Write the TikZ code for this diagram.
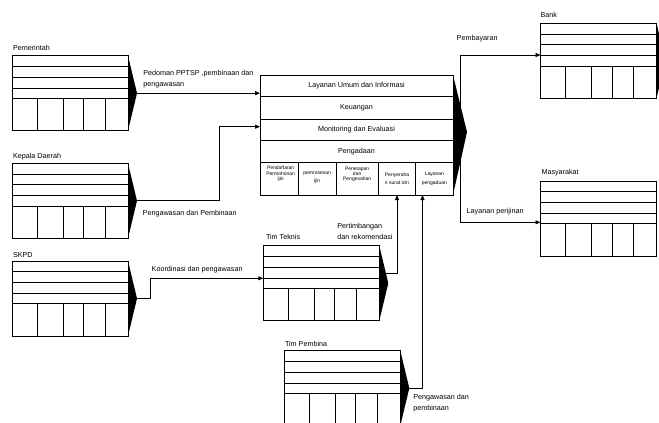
\documentclass[tikz,border=0pt]{standalone}
\usepackage{fontspec}
\setmainfont{Liberation Sans}
\usetikzlibrary{calc,arrows.meta}
\tikzset{
 ebox/.style={draw, line width=0.8pt, minimum width=116pt, minimum height=75pt, inner sep=0pt, outer sep=0pt, anchor=north west},
 eline/.style={line width=0.8pt},
 lbl/.style={inner sep=0pt, outer sep=0pt, anchor=base west, align=left, font=\fontsize{7.2}{11}\selectfont},
 rowbox/.style={draw, line width=0.8pt, minimum width=193pt, inner sep=0pt, outer sep=0pt, anchor=north west, font=\fontsize{7.2}{9}\selectfont},
 cellbox/.style={draw, line width=0.8pt, minimum height=32.3pt, inner sep=0pt, outer sep=0pt, anchor=north west},
 celltxt/.style={inner sep=0pt, align=center, font=\fontsize{5}{5.4}\selectfont},
 celltxtb/.style={inner sep=0pt, align=center, font=\fontsize{5}{8.2}\selectfont},
 arr/.style={line width=0.8pt, -{Triangle[length=5pt,width=4pt]}},
}
\newcommand{\entity}[3]{%
 \node[ebox] (#1) at (#2,#3) {};
 \foreach \rr in {10.7,21.3,32.3,42.7}{\draw[eline] ($(#1.north west)+(0,\rr)$) -- ($(#1.north east)+(0,\rr)$);}
 \foreach \cc in {25,51,71.5,93}{\draw[eline] ($(#1.north west)+(\cc,42.7)$) -- ($(#1.south west)+(\cc,0)$);}
 \coordinate (#1-tip) at ($(#1.east)+(9,0)$);
}
\newcommand{\etri}[1]{\fill (#1.north east) -- (#1-tip) -- (#1.south east) -- cycle;}
\begin{document}
\begin{tikzpicture}[x=1pt,y=-1pt]
\useasboundingbox (0,0) rectangle (659,423);
\clip (0,0) rectangle (659,423);

% entity boxes
\entity{pem}{12}{55.7} \etri{pem}
\entity{kep}{12}{163.3} \etri{kep}
\entity{skpd}{12}{261} \etri{skpd}
\entity{tt}{263.3}{245.7} \etri{tt}
\entity{bank}{540.5}{23.3} \etri{bank}
\entity{masy}{540.5}{181}
\entity{tp}{284.3}{350.7} \etri{tp}

% labels
\node[lbl] (lpem) at (13,50) {Pemerintah};
\node[lbl] (lkep) at (13,158.5) {Kepala Daerah};
\node[lbl] (lskpd) at (13,257.5) {SKPD};
\node[lbl] (ltt) at (266,239) {Tim Teknis};
\node[lbl] (ltp) at (285,346.7) {Tim Pembina};
\node[lbl] (lbank) at (540.5,17.5) {Bank};
\node[lbl] (lmasy) at (541.5,174) {Masyarakat};
\node[lbl] (l1) at (143.3,86.7) {Pedoman PPTSP ,pembinaan dan\\pengawasan};
\node[lbl] (l2) at (142.7,215) {Pengawasan dan Pembinaan};
\node[lbl] (l3) at (151.7,271.7) {Koordinasi dan pengawasan};
\node[lbl] (l4) at (337.3,239) {Pertimbangan\\dan rekomendasi};
\node[lbl] (l5) at (413.3,410) {Pengawasan dan\\pembinaan};
\node[lbl] (l6) at (456.7,40.5) {Pembayaran};
\node[lbl] (l7) at (466.7,213.5) {Layanan perijinan};

% central box
\node[rowbox, minimum height=21.7pt] (r1) at (260,75) {Layanan Umum dan Informasi};
\node[rowbox, minimum height=22.3pt] (r2) at (260,96.7) {Keuangan};
\node[rowbox, minimum height=21pt] (r3) at (260,119) {Monitoring dan Evaluasi};
\node[rowbox, minimum height=22.7pt] (r4) at (260,140) {Pengadaan};
\node[cellbox, minimum width=38.3pt] (c1) at (260,162.7) {};
\node[cellbox, minimum width=37.7pt] (c2) at (298.3,162.7) {};
\node[cellbox, minimum width=42.3pt] (c3) at (336,162.7) {};
\node[cellbox, minimum width=37.4pt] (c4) at (378.3,162.7) {};
\node[cellbox, minimum width=37.3pt] (c5) at (415.7,162.7) {};
\node[celltxt] (t1) at ($(c1.center)+(1.5,-5)$) {Pendaftaran\\Permohonan\\ijin};
\node[celltxtb] (t2) at ($(c2.center)+(0,-1)$) {pemrosesan\\ijin};
\node[celltxt] (t3) at ($(c3.center)+(0,-4.6)$) {Penetapan\\dan\\Pengesahan};
\node[celltxtb] (t4) at (c4.center) {Penyeraha\\n surat izin};
\node[celltxtb] (t5) at (c5.center) {Layanan\\pengaduan};
\coordinate (ctip) at (467,132);
\fill (r1.north east) -- (ctip) -- (c5.south east) -- cycle;

% connectors
\draw[arr] (pem-tip) -- (pem-tip -| r1.west);
\draw[arr] (kep-tip) -- ++(82,0) |- ($(r3.west)+(0,-2.8)$);
\draw[arr] (skpd-tip) -- ++(13,0) |- ($(tt.north west)+(0,32.6)$);
\coordinate (ttout) at ($(tt.north east)+(6.6,27.5)$);
\draw[arr] (ttout) -| (c4.south);
\draw[arr] (tp-tip) -| ($(c5.south west)+(6.8,0)$);
\coordinate (split) at (460,132);
\draw[arr] (split) |- ($(bank.north west)+(0,31.7)$);
\draw[arr] (split) |- ($(masy.north west)+(0,41.3)$);
\end{tikzpicture}
\end{document}
